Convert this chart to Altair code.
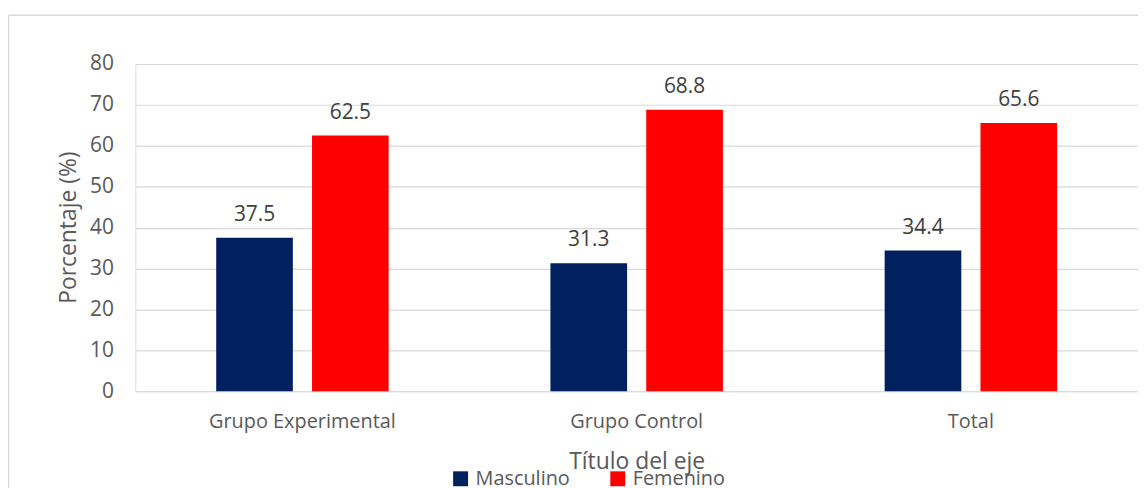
import altair as alt
import pandas as pd

groups = ["Grupo Experimental", "Grupo Control", "Total"]
sexes = ["Masculino", "Femenino"]
masculino = [37.5, 31.3, 34.4]
femenino = [62.5, 68.8, 65.6]
y_ticks = [0, 10, 20, 30, 40, 50, 60, 70, 80]
colors = ["#002060", "#FF0000"]

rows = []
for g, m, f in zip(groups, masculino, femenino):
    rows.append({"grupo": g, "sexo": "Masculino", "valor": m})
    rows.append({"grupo": g, "sexo": "Femenino", "valor": f})
df = pd.DataFrame(rows)

FONT = "Open Sans"
GREY = "#595959"

x_enc = alt.X(
    "grupo:N",
    sort=groups,
    scale=alt.Scale(paddingInner=0.484, paddingOuter=0.242, round=False),
    axis=alt.Axis(
        title="Título del eje",
        labelAngle=0,
        labelLimit=0,
        ticks=False,
        domain=False,
        labelPadding=20,
        labelFontSize=20,
        labelColor=GREY,
        labelFont=FONT,
        titleFont=FONT,
        titleFontSize=23,
        titleFontWeight="normal",
        titleColor=GREY,
        titleY=78,
        titleBaseline="alphabetic",
    ),
)
xo_enc = alt.XOffset("sexo:N", sort=sexes, scale=alt.Scale(paddingInner=0.2, paddingOuter=0, round=False))
y_enc = alt.Y(
    "valor:Q",
    scale=alt.Scale(domain=[0, 80]),
    axis=alt.Axis(
        values=y_ticks,
        title="Porcentaje (%)",
        grid=True,
        gridColor="#d9d9d9",
        gridWidth=1.2,
        domain=False,
        ticks=False,
        labelPadding=22,
        labelFontSize=21,
        labelColor=GREY,
        labelFont=FONT,
        titleFont=FONT,
        titleFontSize=23,
        titleFontWeight="normal",
        titleColor=GREY,
        titleX=-67,
        titleY=164,
        titleAlign="center",
        titleBaseline="middle",
        titleAngle=270,
    ),
)
color_enc = alt.Color(
    "sexo:N",
    sort=sexes,
    scale=alt.Scale(domain=sexes, range=colors),
    legend=alt.Legend(
        orient="none",
        legendX=317,
        legendY=407,
        direction="horizontal",
        title=None,
        symbolType="square",
        symbolSize=225,
        symbolStrokeWidth=0,
        labelFont=FONT,
        labelFontSize=20,
        labelColor=GREY,
        labelOffset=5,
        columnPadding=38,
    ),
)

base = alt.Chart(df)
bars = base.mark_bar().encode(x=x_enc, xOffset=xo_enc, y=y_enc, color=color_enc)
labels = base.mark_text(dy=-17, baseline="alphabetic", fontSize=21, color="#404040", font=FONT).encode(
    x=alt.X("grupo:N", sort=groups), xOffset=alt.XOffset("sexo:N", sort=sexes), y="valor:Q",
    text=alt.Text("valor:Q", format=".1f"),
)

frame = pd.DataFrame({"k": [0]})
border_left = alt.Chart(frame).mark_rule(color="#d9d9d9", strokeWidth=1.5).encode(
    x=alt.value(-127.5), y=alt.value(-49), y2=alt.value(440)
)
border_top = alt.Chart(frame).mark_rule(color="#d9d9d9", strokeWidth=1.5).encode(
    x=alt.value(-127.5), x2=alt.value(1020), y=alt.value(-49)
)

chart = alt.layer(border_left, border_top, bars, labels).properties(
    width=1008,
    height=329,
    autosize=alt.AutoSizeParams(type="none"),
    padding={"left": 128, "top": 55, "right": 0, "bottom": 96},
).configure_view(stroke=None).configure(background="white")

chart.save("out.html", embed_options={"renderer": "svg", "actions": False})
